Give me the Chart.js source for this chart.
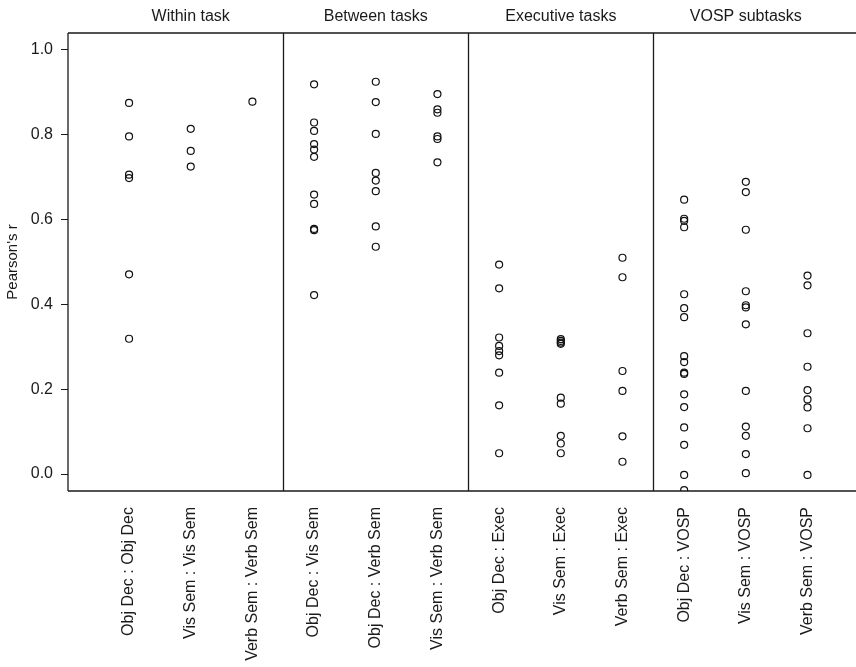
<!DOCTYPE html>
<html>
<head>
<meta charset="utf-8">
<script src="https://cdn.jsdelivr.net/npm/chart.js@4"></script>
<style>
  body { margin: 0; background: #fff; }
</style>
</head>
<body>
<canvas id="corrChart" width="856" height="667"></canvas>
<script>
// categories on the x axis, three per panel
const categories = [
  'Obj Dec : Obj Dec', 'Vis Sem : Vis Sem', 'Verb Sem : Verb Sem',
  'Obj Dec : Vis Sem', 'Obj Dec : Verb Sem', 'Vis Sem : Verb Sem',
  'Obj Dec : Exec', 'Vis Sem : Exec', 'Verb Sem : Exec',
  'Obj Dec : VOSP', 'Vis Sem : VOSP', 'Verb Sem : VOSP'
];
const panelTitles = ['Within task', 'Between tasks', 'Executive tasks', 'VOSP subtasks'];
const yTickValues = [0.0, 0.2, 0.4, 0.6, 0.8, 1.0];

// Pearson's r values
const objDecObjDec = [0.875, 0.796, 0.706, 0.698, 0.471, 0.319];
const visSemVisSem = [0.814, 0.762, 0.725];
const verbSemVerbSem = [0.878];
const objDecVisSem = [0.919, 0.829, 0.809, 0.778, 0.765, 0.748, 0.659, 0.637, 0.578, 0.575, 0.422];
const objDecVerbSem = [0.925, 0.877, 0.802, 0.710, 0.692, 0.667, 0.584, 0.536];
const visSemVerbSem = [0.896, 0.860, 0.852, 0.796, 0.790, 0.735];
const objDecExec = [0.494, 0.438, 0.322, 0.302, 0.290, 0.280, 0.239, 0.162, 0.049];
const visSemExec = [0.318, 0.314, 0.310, 0.307, 0.180, 0.166, 0.090, 0.072, 0.049];
const verbSemExec = [0.510, 0.464, 0.243, 0.196, 0.089, 0.029];
const objDecVosp = [0.647, 0.602, 0.597, 0.582, 0.424, 0.391, 0.370, 0.278, 0.264, 0.239, 0.236, 0.188, 0.158, 0.110, 0.069, -0.002, -0.038];
const visSemVosp = [0.689, 0.665, 0.576, 0.431, 0.398, 0.393, 0.353, 0.196, 0.112, 0.090, 0.047, 0.002];
const verbSemVosp = [0.468, 0.445, 0.332, 0.253, 0.198, 0.176, 0.157, 0.108, -0.002];

const seriesValues = [
  objDecObjDec, visSemVisSem, verbSemVerbSem,
  objDecVisSem, objDecVerbSem, visSemVerbSem,
  objDecExec, visSemExec, verbSemExec,
  objDecVosp, visSemVosp, verbSemVosp
];

const FONT = '"Liberation Sans", Arial, sans-serif';
const INK = '#1a1a1a';

// frame, panel dividers and panel titles
const panelFrame = {
  id: 'panelFrame',
  beforeDatasetsDraw(chart) {
    const ctx = chart.ctx;
    const a = chart.chartArea;
    const x = chart.scales.x;
    ctx.save();
    ctx.strokeStyle = INK;
    ctx.lineWidth = 1.3;
    ctx.beginPath();
    ctx.moveTo(a.left, a.top); ctx.lineTo(chart.width, a.top);
    ctx.moveTo(a.left, a.top); ctx.lineTo(a.left, a.bottom);
    ctx.moveTo(a.left, a.bottom); ctx.lineTo(chart.width, a.bottom);
    panelTitles.forEach((t, k) => {
      if (k > 0) {
        const px = Math.round(x.getPixelForValue(k * 3 - 0.5)) + 0.5;
        ctx.moveTo(px, a.top);
        ctx.lineTo(px, a.bottom);
      }
    });
    ctx.stroke();

    ctx.fillStyle = INK;
    ctx.font = '16px ' + FONT;
    ctx.textAlign = 'center';
    ctx.textBaseline = 'middle';
    panelTitles.forEach((t, k) => {
      ctx.fillText(t, x.getPixelForValue(k * 3 + 1), 17);
    });
    ctx.restore();
  }
};

const points = seriesValues.flatMap((vals, i) => vals.map(v => ({ x: i, y: v })));

new Chart(document.getElementById('corrChart'), {
  type: 'scatter',
  data: {
    datasets: [{
      data: points,
      pointStyle: 'circle',
      pointRadius: 3.5,
      pointHoverRadius: 3.5,
      pointBorderWidth: 1.2,
      pointBorderColor: '#111',
      pointBackgroundColor: 'rgba(0,0,0,0)',
      clip: 0
    }]
  },
  options: {
    responsive: false,
    animation: false,
    layout: { padding: { top: 33, right: 0, bottom: 0, left: 0 } },
    plugins: {
      legend: { display: false },
      tooltip: { enabled: false }
    },
    scales: {
      x: {
        type: 'linear',
        min: -0.99,
        max: 11.71,
        afterBuildTicks: s => { s.ticks = categories.map((c, i) => ({ value: i })); },
        afterFit: s => { s.height = 176; },
        grid: { display: false },
        border: { display: false },
        ticks: {
          autoSkip: false,
          minRotation: 90,
          maxRotation: 90,
          padding: 8,
          color: INK,
          font: { family: FONT, size: 16 },
          callback: v => categories[v] ?? ''
        }
      },
      y: {
        min: -0.04,
        max: 1.04,
        afterBuildTicks: s => { s.ticks = yTickValues.map(v => ({ value: v })); },
        afterFit: s => { s.width = 68; },
        grid: {
          drawOnChartArea: false,
          drawTicks: true,
          tickLength: 7,
          color: INK,
          lineWidth: 1
        },
        border: { display: false },
        ticks: {
          padding: 8,
          color: INK,
          font: { family: FONT, size: 16 },
          callback: v => v.toFixed(1)
        },
        title: {
          display: true,
          text: "Pearson's r",
          color: INK,
          font: { family: FONT, size: 15 },
          padding: { top: 4, bottom: 2 }
        }
      }
    }
  },
  plugins: [panelFrame]
});
</script>
</body>
</html>
